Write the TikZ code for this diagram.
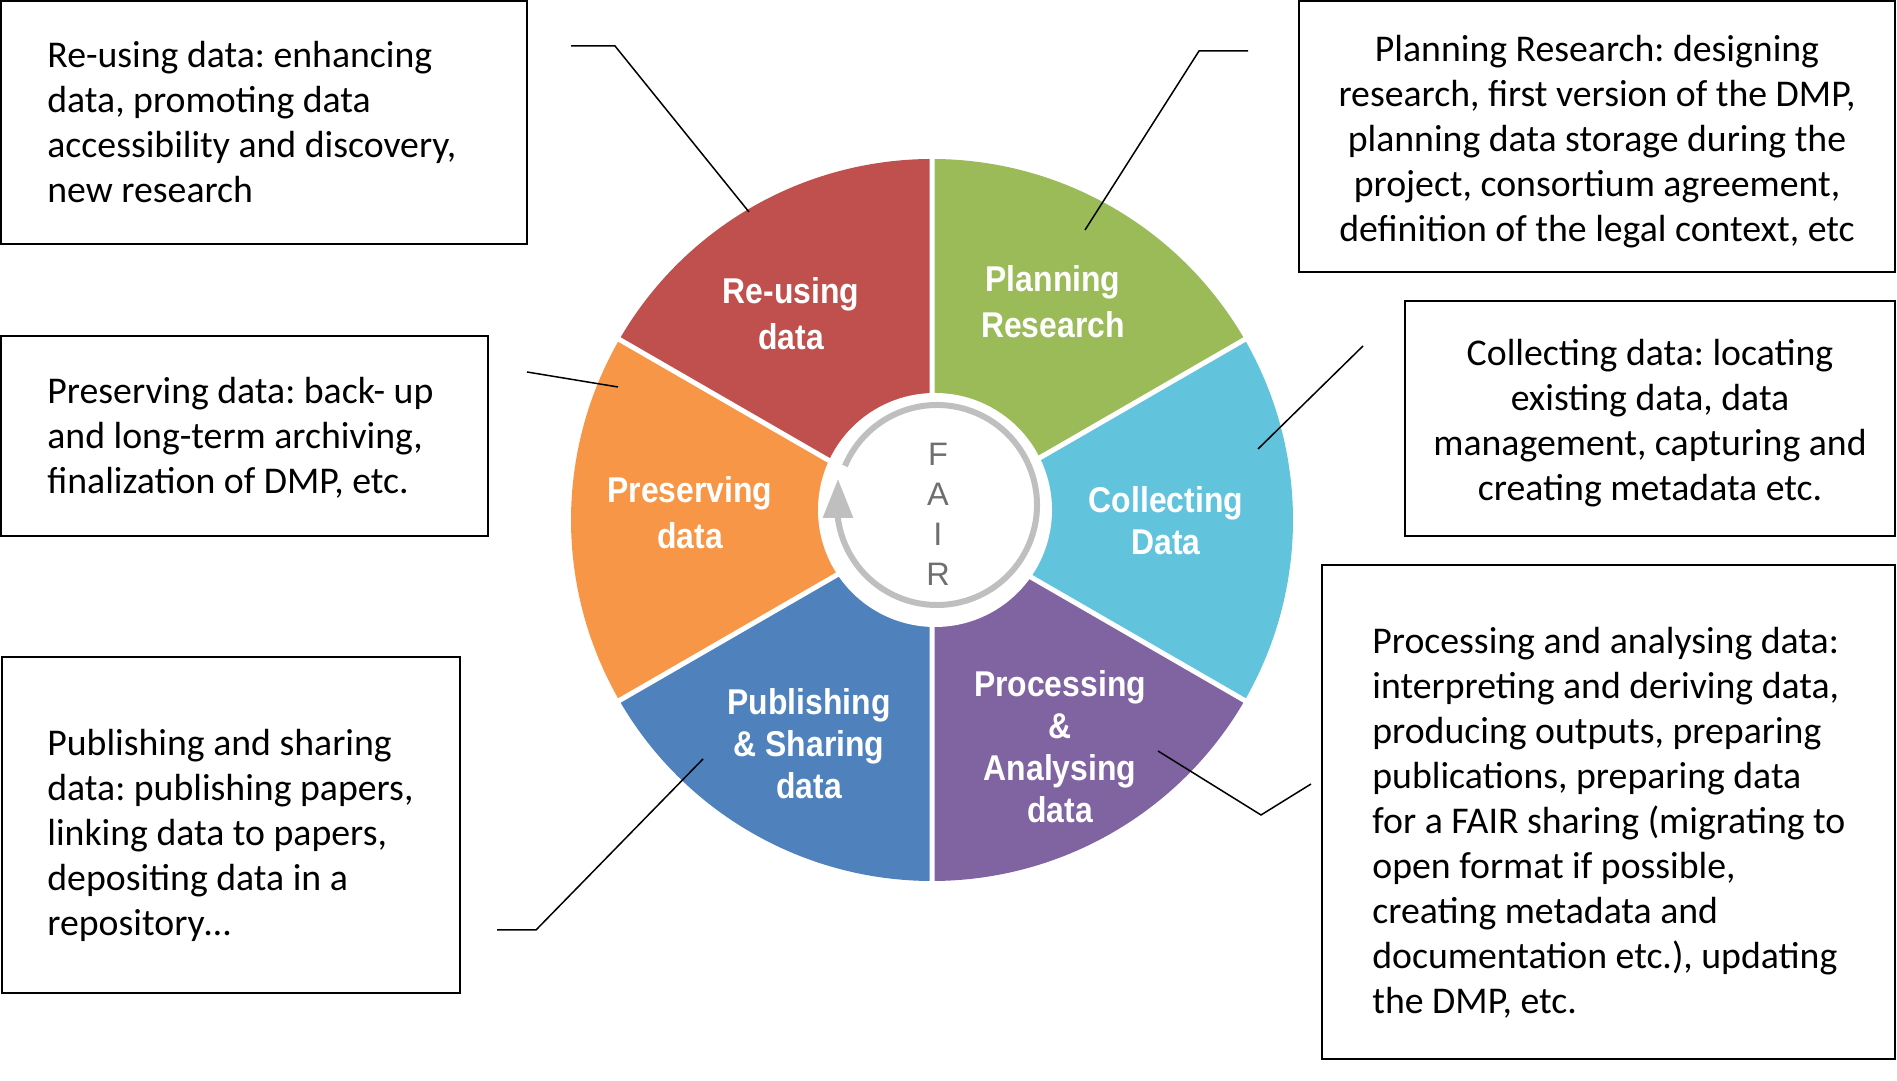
\documentclass[tikz,border=0pt]{standalone}
\usepackage{fontspec}
\setmainfont{Carlito}
\newfontfamily\segfont{Liberation Sans}[FakeStretch=0.89]
\newfontfamily\fairfont{Liberation Sans}
\usetikzlibrary{arrows.meta,positioning}
\definecolor{reusered}{HTML}{C0504D}
\definecolor{plangreen}{HTML}{9BBB59}
\definecolor{collectcyan}{HTML}{62C3DD}
\definecolor{processpurple}{HTML}{8064A2}
\definecolor{publishblue}{HTML}{4F81BD}
\definecolor{preserveorange}{HTML}{F79646}
\definecolor{ringgray}{HTML}{BFBFBF}
\definecolor{fairgray}{HTML}{6F6F6F}
\frenchspacing

\begin{document}
\begin{tikzpicture}[x=0.02cm, y=0.02cm,
    infobox/.style={draw, line width=0.04cm, inner sep=0pt},
    infotext/.style={font=\fontsize{21.5}{25.6}\selectfont, inner sep=0pt},
    seglabel/.style={text=white, align=center, inner sep=0pt, font=\segfont\bfseries\fontsize{20.4}{26.2}\selectfont},
    segtight/.style={seglabel, font=\segfont\bfseries\fontsize{20.4}{23.9}\selectfont},
    fairlabel/.style={text=fairgray, align=center, inner sep=0pt, font=\fairfont\fontsize{18.5}{22.8}\selectfont},
    leader/.style={line width=0.03cm},
    divider/.style={white, line width=0.1cm},
    ring/.style={draw=ringgray, line width=0.12cm, -{Triangle[length=0.78cm, width=0.58cm]}}
]
\useasboundingbox (0,0) rectangle (1897,1081);

% The wheel
\coordinate (wc) at (932,561);
\coordinate (hc) at (935,571);
\coordinate (rc) at (937,576);
\fill[plangreen] (wc) -- ++(30:361) arc[start angle=30, end angle=90, radius=361] -- cycle;
\fill[reusered] (wc) -- ++(90:361) arc[start angle=90, end angle=150, radius=361] -- cycle;
\fill[preserveorange] (wc) -- ++(150:361) arc[start angle=150, end angle=210, radius=361] -- cycle;
\fill[publishblue] (wc) -- ++(210:361) arc[start angle=210, end angle=270, radius=361] -- cycle;
\fill[processpurple] (wc) -- ++(270:361) arc[start angle=270, end angle=330, radius=361] -- cycle;
\fill[collectcyan] (wc) -- ++(-30:361) arc[start angle=-30, end angle=30, radius=361] -- cycle;
\draw[divider] (wc) -- ++(90:365) (wc) -- ++(30:365) (wc) -- ++(-30:365)
    (wc) -- ++(-90:365) (wc) -- ++(-150:365) (wc) -- ++(150:365);
\fill[white] (hc) circle[radius=117];

% FAIR ring
\draw[ring] (rc) ++(157:100) arc[start angle=157, end angle=-172, radius=100] -- ++(0,40);
\node[fairlabel] (fair) at (938,566.5) {F\\A\\I\\R};

% Segment labels
\node[seglabel] (reuse) at (791,767) {Re-using\\data};
\node[seglabel] (plan) at (1053,779) {Planning\\Research};
\node[seglabel] (preserve) at (690,568) {Preserving\\data};
\node[segtight] (collect) at (1166,560) {Collecting\\Data};
\node[segtight] (publish) at (809,337) {Publishing\\\& Sharing\\data};
\node[segtight] (process) at (1060,334.5) {Processing\\\&\\Analysing\\data};

% Description boxes
\node[infobox, minimum width=10.52cm, minimum height=4.86cm] (reusebox) at (264,958.5) {};
\node[infobox, minimum width=11.92cm, minimum height=5.42cm] (planbox) at (1597,944.5) {};
\node[infobox, minimum width=9.74cm, minimum height=4cm] (preservebox) at (244.5,645) {};
\node[infobox, minimum width=9.8cm, minimum height=4.7cm] (collectbox) at (1650,662.5) {};
\node[infobox, minimum width=9.16cm, minimum height=6.72cm] (publishbox) at (231,256) {};
\node[infobox, minimum width=11.46cm, minimum height=9.88cm] (processbox) at (1608.5,269) {};

\node[infotext, align=left, anchor=west] (reusetxt) at ([xshift=0.94cm]reusebox.west)
    {Re-using data: enhancing\\data, promoting data\\accessibility and discovery,\\new research};
\node[infotext, align=center] (plantxt) at ([yshift=-0.1cm]planbox.center)
    {Planning Research: designing\\research, first version of the DMP,\\planning data storage during the\\project, consortium agreement,\\definition of the legal context, etc};
\node[infotext, align=left, anchor=west] (preservetxt) at ([xshift=0.94cm, yshift=-0.04cm]preservebox.west)
    {Preserving data: back- up\\and long-term archiving,\\finalization of DMP, etc.};
\node[infotext, align=center] (collecttxt) at ([yshift=-0.1cm]collectbox.center)
    {Collecting data: locating\\existing data, data\\management, capturing and\\creating metadata etc.};
\node[infotext, align=left, anchor=west] (publishtxt) at ([xshift=0.92cm, yshift=-0.2cm]publishbox.west)
    {Publishing and sharing\\data: publishing papers,\\linking data to papers,\\depositing data in a\\repository…};
\node[infotext, align=left, anchor=west] (processtxt) at ([xshift=1.02cm, yshift=-0.21cm]processbox.west)
    {Processing and analysing data:\\interpreting and deriving data,\\producing outputs, preparing\\publications, preparing data\\for a FAIR sharing (migrating to\\open format if possible,\\creating metadata and\\documentation etc.), updating\\the DMP, etc.};

% Leader lines
\coordinate (reuseA) at (571,1035);
\coordinate (reuseB) at (615,1035);
\coordinate (reuseC) at (749,869);
\coordinate (planA) at (1248,1030);
\coordinate (planB) at (1199,1030);
\coordinate (planC) at (1085,851);
\coordinate (preserveA) at (527,709);
\coordinate (preserveB) at (618,694);
\coordinate (collectA) at (1363,735);
\coordinate (collectB) at (1258,632);
\coordinate (publishA) at (497,151);
\coordinate (publishB) at (536,151);
\coordinate (publishC) at (703,322);
\coordinate (processA) at (1311,297);
\coordinate (processB) at (1261,266);
\coordinate (processC) at (1158,330);
\draw[leader] (reuseA) -- (reuseB) -- (reuseC);
\draw[leader] (planA) -- (planB) -- (planC);
\draw[leader] (preserveA) -- (preserveB);
\draw[leader] (collectA) -- (collectB);
\draw[leader] (publishA) -- (publishB) -- (publishC);
\draw[leader] (processA) -- (processB) -- (processC);

\end{tikzpicture}
\end{document}
